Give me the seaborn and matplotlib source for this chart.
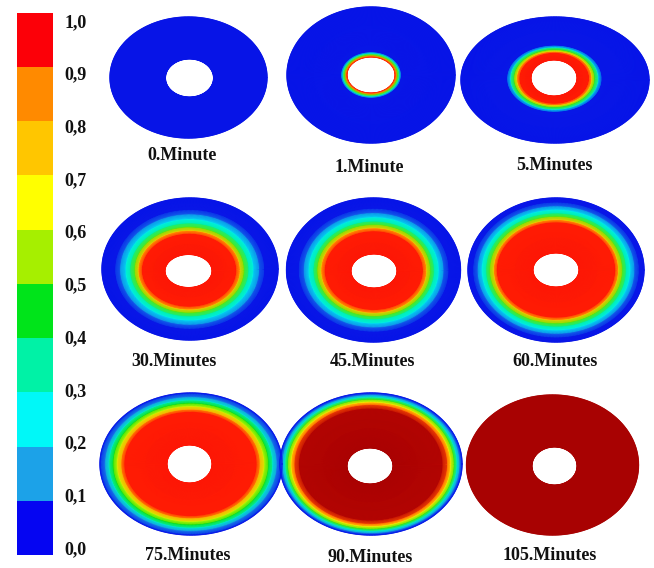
import numpy as np
import matplotlib
matplotlib.use("Agg")
import matplotlib.pyplot as plt
import seaborn as sns
from matplotlib.colors import ListedColormap, LinearSegmentedColormap, Normalize

# ---------------- data ----------------
# colour scale (bands from bottom 0,0 to top 1,0)
band_mids = [0.05, 0.15, 0.25, 0.35, 0.45, 0.55, 0.65, 0.75, 0.85, 0.95]
band_colors = ["#0505f2", "#1ca2e8", "#00f8f8", "#00f2a6", "#00e41a",
               "#a6ef00", "#ffff00", "#ffc600", "#ff8a00", "#fc0008"]
tick_labels = ["1,0", "0,9", "0,8", "0,7", "0,6", "0,5", "0,4", "0,3", "0,2", "0,1", "0,0"]

time_labels = ["0.Minute", "1.Minute", "5.Minutes",
               "30.Minutes", "45.Minutes", "60.Minutes",
               "75.Minutes", "90.Minutes", "105.Minutes"]

# radial concentration profiles: position from hole edge (0) to outer rim (1)
prof_0_s = [0.0, 1.0]
prof_0_v = [0.02, 0.02]
prof_1_s = [0.0, 0.025, 0.05, 0.08, 0.11, 1.0]
prof_1_v = [1.0, 0.85, 0.5, 0.28, 0.04, 0.02]
prof_5_s = [0.0, 0.17, 0.21, 0.25, 0.3, 0.35, 1.0]
prof_5_v = [1.0, 0.96, 0.72, 0.48, 0.26, 0.05, 0.02]
prof_30_s = [0.0, 0.37, 0.43, 0.49, 0.56, 0.63, 0.72, 0.8, 1.0]
prof_30_v = [1.0, 0.96, 0.75, 0.5, 0.35, 0.25, 0.12, 0.04, 0.02]
prof_45_s = [0.0, 0.41, 0.47, 0.53, 0.59, 0.66, 0.74, 0.82, 1.0]
prof_45_v = [1.0, 0.96, 0.75, 0.5, 0.35, 0.25, 0.12, 0.04, 0.02]
prof_60_s = [0.0, 0.56, 0.61, 0.67, 0.73, 0.79, 0.86, 0.93, 1.0]
prof_60_v = [1.0, 0.96, 0.75, 0.5, 0.35, 0.25, 0.12, 0.05, 0.03]
prof_75_s = [0.0, 0.64, 0.69, 0.75, 0.81, 0.87, 0.93, 1.0]
prof_75_v = [1.0, 0.96, 0.8, 0.6, 0.45, 0.3, 0.15, 0.05]
prof_90_s = [0.0, 0.72, 0.79, 0.84, 0.89, 0.93, 0.97, 1.0]
prof_90_v = [1.1, 1.08, 0.9, 0.68, 0.48, 0.3, 0.15, 0.05]
prof_105_s = [0.0, 1.0]
prof_105_v = [1.1, 1.1]

profiles = [(prof_0_s, prof_0_v), (prof_1_s, prof_1_v), (prof_5_s, prof_5_v),
            (prof_30_s, prof_30_v), (prof_45_s, prof_45_v), (prof_60_s, prof_60_v),
            (prof_75_s, prof_75_v), (prof_90_s, prof_90_v), (prof_105_s, prof_105_v)]

# ---------------- layout (pixels) ----------------
outer = [(188.5, 77.5, 78.5, 60.5), (371, 75, 84, 68), (555, 80, 94, 63),
         (190, 269, 88, 71), (373.5, 270, 87, 72), (556, 270, 88, 72),
         (191, 464, 91, 71), (371, 464, 91, 71), (552.5, 465, 86, 70)]
holes = [(189.5, 78, 24, 19), (371, 75, 24, 18), (554, 78, 23, 18),
         (188.5, 271, 23.5, 16.5), (374, 271, 23, 17), (556, 270, 23, 17),
         (189.5, 464, 22.5, 19), (370, 466, 23, 18), (554.5, 466, 22.5, 19)]
label_pos = [(182, 156), (369, 167), (554, 166),
             (174, 361), (372, 361), (555, 361),
             (188, 556), (370, 558), (550, 555)]

sns.set_theme(style="white")
plt.rcParams["font.family"] = ["Liberation Serif", "DejaVu Serif"]

W, H = 654, 568
fig = plt.figure(figsize=(W / 100, H / 100), dpi=100)
fig.patch.set_facecolor("white")
ax = fig.add_axes([0, 0, 1, 1])
ax.set_xlim(0, W)
ax.set_ylim(H, 0)
ax.axis("off")

cmap = LinearSegmentedColormap.from_list("conc", [
    (0.0, "#0712e6"), (0.05 / 1.1, "#0818e8"), (0.12 / 1.1, "#1470ea"),
    (0.18 / 1.1, "#1eb0e6"), (0.25 / 1.1, "#00eef0"), (0.35 / 1.1, "#00f0a6"),
    (0.45 / 1.1, "#10e010"), (0.55 / 1.1, "#a6ef00"), (0.65 / 1.1, "#ffff00"),
    (0.75 / 1.1, "#ffc600"), (0.85 / 1.1, "#ff8a00"), (0.95 / 1.1, "#ff2204"),
    (1.0 / 1.1, "#ff1606"), (1.0, "#a80202")])
norm = Normalize(vmin=0.0, vmax=1.1)

theta = np.linspace(0, 2 * np.pi, 361)
for (s_pos, vals), (cx, cy, a, b), (hx, hy, ha, hb) in zip(profiles, outer, holes):
    s = np.asarray(s_pos, dtype=float)[:, None]
    X = (hx + s * (cx - hx)) + (ha + s * (a - ha)) * np.cos(theta)[None, :]
    Y = (hy + s * (cy - hy)) + (hb + s * (b - hb)) * np.sin(theta)[None, :]
    C = np.repeat(np.asarray(vals, dtype=float)[:, None], len(theta), axis=1)
    ax.pcolormesh(X, Y, C, shading="gouraud", cmap=cmap, norm=norm)
    # soft rim
    ax.plot(X[-1], Y[-1], color=cmap(norm(vals[-1])), lw=1.0, alpha=0.8)

for (x, y), lab in zip(label_pos, time_labels):
    ax.text(x, y, lab, ha="center", va="center", fontsize=13,
            fontweight="bold", color="#111111")

# colour bar drawn with seaborn heatmap
cax = fig.add_axes([17 / W, 1 - 555 / H, 36 / W, (555 - 12.7) / H])
data = np.array(band_mids)[::-1].reshape(-1, 1)
sns.heatmap(data, ax=cax, cmap=ListedColormap(band_colors), vmin=0, vmax=1,
            cbar=False, xticklabels=False, yticklabels=False)
pos = 0.14 + np.arange(len(tick_labels)) * (10 - 0.28) / 10
cax.set_yticks(pos)
cax.set_yticklabels(tick_labels, fontsize=13, fontweight="bold", color="#111111")
cax.yaxis.tick_right()
cax.tick_params(axis="y", length=0, pad=8, right=False, left=False,
                labelright=True, labelleft=False)
for sp in cax.spines.values():
    sp.set_visible(False)

fig.savefig("out.png", dpi=100, facecolor="white")
